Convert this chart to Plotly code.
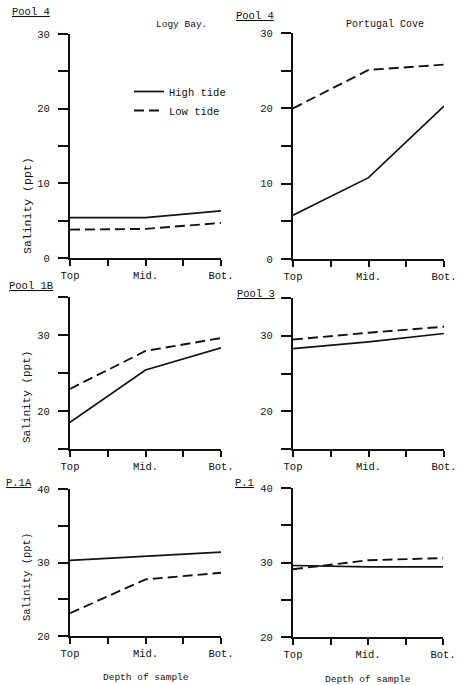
import plotly.graph_objects as go

W, H = 459, 685

# ---- data ----
depth_labels = ["Top", "", "Mid.", "", "Bot."]
depth_pos = [0, 2, 4]          # Top, Mid., Bot.

logy4_high = [5.4, 5.4, 6.3]
logy4_low = [3.8, 3.9, 4.7]
port4_high = [5.8, 10.8, 20.3]
port4_low = [20.0, 25.1, 25.8]
pool1b_high = [18.5, 25.4, 28.3]
pool1b_low = [22.9, 27.9, 29.6]
pool3_high = [28.3, 29.2, 30.3]
pool3_low = [29.5, 30.4, 31.2]
p1a_high = [30.3, 30.8, 31.4]
p1a_low = [23.1, 27.7, 28.6]
p1_high = [29.6, 29.4, 29.4]
p1_low = [29.1, 30.3, 30.6]

series = [
    (logy4_high, logy4_low),
    (port4_high, port4_low),
    (pool1b_high, pool1b_low),
    (pool3_high, pool3_low),
    (p1a_high, p1a_low),
    (p1_high, p1_low),
]
yranges = [(0, 30), (0, 30), (15, 35), (15, 35), (20, 40), (20, 40)]
ytickvals = [
    [0, 5, 10, 15, 20, 25, 30],
    [0, 5, 10, 15, 20, 25, 30],
    [15, 20, 25, 30, 35],
    [15, 20, 25, 30, 35],
    [20, 25, 30, 35, 40],
    [20, 25, 30, 35, 40],
]
yticktext = [
    ["0", "", "10", "", "20", "", "30"],
    ["0", "", "10", "", "20", "", "30"],
    ["", "20", "", "30", ""],
    ["", "20", "", "30", ""],
    ["20", "", "30", "", "40"],
    ["20", "", "30", "", "40"],
]
pool_labels = ["Pool 4", "Pool 4", "Pool 1B", "Pool 3", "P.1A", "P.1"]

# ---- layout geometry (pixels) ----
boxes = [
    (70, 221, 34, 258),
    (293, 444, 33, 259),
    (70, 221, 297, 449),
    (293, 444, 298, 449),
    (70, 221, 489, 636),
    (293, 443, 488, 637),
]
label_pos = [(31, 12), (255, 16), (31, 286), (256, 294), (19, 483), (244, 483)]

FONT = "Liberation Mono, Courier New, monospace"


def px(x):
    return x / W


def py(y):
    return 1 - y / H


def ann(text, x, y, size=10, **kw):
    return dict(text=text, x=px(x), y=py(y), xref="paper", yref="paper",
                xanchor="center", yanchor="middle", showarrow=False,
                font=dict(size=size, family=FONT, color="#111"), **kw)


fig = go.Figure()
layout = dict(
    width=W, height=H,
    margin=dict(l=0, r=0, t=0, b=0, autoexpand=False),
    paper_bgcolor="white", plot_bgcolor="white",
    font=dict(family=FONT, size=10, color="#111"),
    showlegend=True,
    legend=dict(x=px(129), y=py(77), xanchor="left", yanchor="top",
                bgcolor="rgba(0,0,0,0)", font=dict(size=10.5, family=FONT),
                itemwidth=30, tracegroupgap=0),
)
annotations = []

for i, ((hi, lo), (x0, x1, y0, y1)) in enumerate(zip(series, boxes)):
    n = i + 1
    xa = "x" if n == 1 else f"x{n}"
    ya = "y" if n == 1 else f"y{n}"
    fig.add_trace(go.Scatter(x=depth_pos, y=hi, mode="lines", xaxis=xa, yaxis=ya,
                             line=dict(color="#111", width=1.7),
                             name="High tide", showlegend=(n == 1)))
    fig.add_trace(go.Scatter(x=depth_pos, y=lo, mode="lines", xaxis=xa, yaxis=ya,
                             line=dict(color="#111", width=1.9, dash="10px,5px"),
                             name="Low tide", showlegend=(n == 1)))
    ax_common = dict(showline=True, linecolor="#111", linewidth=2,
                     ticks="outside", tickwidth=2, tickcolor="#111",
                     showgrid=False, zeroline=False, automargin=False,
                     tickfont=dict(family=FONT, size=10.5, color="#111"))
    layout["xaxis" if n == 1 else f"xaxis{n}"] = dict(
        domain=[px(x0), px(x1)], anchor=ya, range=[0, 4], ticklen=6,
        tickvals=[0, 1, 2, 3, 4], ticktext=depth_labels, **ax_common)
    layout["yaxis" if n == 1 else f"yaxis{n}"] = dict(
        domain=[py(y1), py(y0)], anchor=xa, range=list(yranges[i]), ticklen=10,
        ticklabelstandoff=6,
        tickvals=ytickvals[i], ticktext=yticktext[i], **ax_common)
    lx, ly = label_pos[i]
    annotations.append(ann(f"<u>{pool_labels[i]}</u>", lx, ly, size=10.5))

# titles
annotations += [
    ann("Logy Bay.", 181, 24, size=9.5),
    ann("Portugal Cove", 385, 24),
    ann("Depth of sample", 146, 677, size=9.5),
    ann("Depth of sample", 368, 679, size=9.5),
]
for yc, fs in ((206, 11.5), (397, 11), (577, 10.5)):
    annotations.append(ann("Salinity (ppt)", 27, yc, size=fs, textangle=-90))

layout["annotations"] = annotations
fig.update_layout(**layout)
fig.write_html("out.html", config={"displayModeBar": False},
               post_script="document.body.style.margin='0';")
